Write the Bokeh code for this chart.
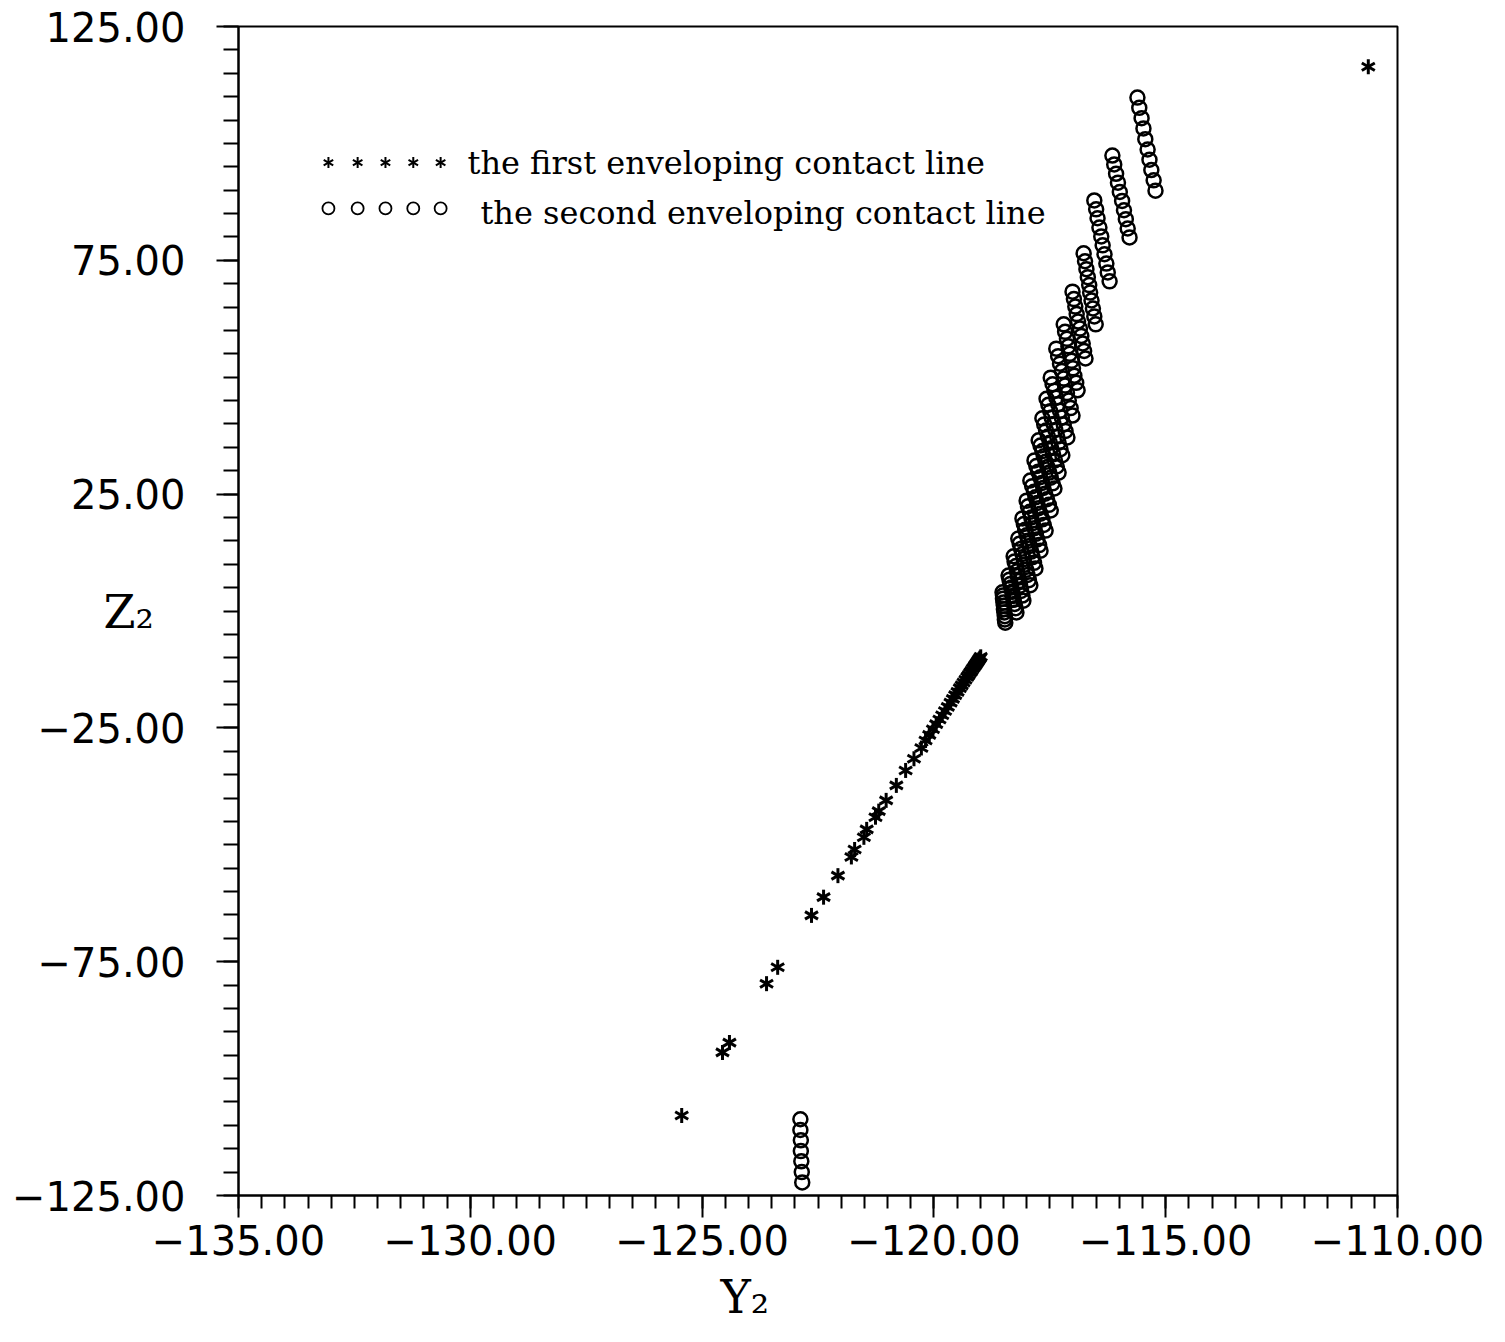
from bokeh.plotting import figure
from bokeh.models import Range1d, FixedTicker, Label, Title, ColumnDataSource
from bokeh.embed import file_html
from bokeh.resources import INLINE

# ---------------- data ----------------
x_ticks = [-135, -130, -125, -120, -115, -110]
x_tick_labels = ["\u2212135.00", "\u2212130.00", "\u2212125.00", "\u2212120.00", "\u2212115.00", "\u2212110.00"]
y_ticks = [-125, -75, -25, 25, 75, 125]
y_tick_labels = ["\u2212125.00", "\u221275.00", "\u221225.00", "25.00", "75.00", "125.00"]

# first enveloping contact line (stars)
star_y2 = [-125.44, -124.56, -124.41, -123.61, -123.37, -122.64, -122.38, -122.07,
           -121.78, -121.71, -121.51, -121.45, -121.26, -121.19, -121.03, -120.81,
           -120.61, -120.43, -120.27, -120.18,
           -120.10, -120.02, -119.95, -119.88, -119.82, -119.76, -119.70, -119.64,
           -119.59, -119.54, -119.49, -119.44, -119.40, -119.36, -119.32, -119.28,
           -119.25, -119.22, -119.19, -119.16, -119.13, -119.11, -119.09, -119.07,
           -119.05, -119.03, -119.01, -118.99,
           -110.63]
star_z2 = [-107.9, -94.4, -92.3, -79.7, -76.2, -65.1, -61.2, -56.6,
           -52.6, -51.0, -48.4, -46.7, -44.1, -42.8, -40.5, -37.3,
           -34.1, -31.6, -29.3, -27.7,
           -26.5, -25.3, -24.2, -23.2, -22.3, -21.4, -20.5, -19.6,
           -18.8, -18.0, -17.3, -16.5, -15.9, -15.3, -14.7, -14.1,
           -13.7, -13.2, -12.8, -12.3, -11.9, -11.6, -11.3, -11.0,
           -10.7, -10.4, -10.1, -9.8,
           116.4]

# second enveloping contact line (circles)
circ_y2 = [
    -122.88, -122.88, -122.87, -122.87, -122.86, -122.85, -122.84,
    -115.61, -115.57, -115.52, -115.48, -115.44, -115.39, -115.35, -115.31, -115.26, -115.22,
    -116.15, -116.11, -116.07, -116.03, -115.99, -115.94, -115.90, -115.86, -115.82, -115.78,
    -116.54, -116.50, -116.47, -116.43, -116.39, -116.36, -116.32, -116.28, -116.25, -116.21,
    -116.77, -116.74, -116.71, -116.68, -116.65, -116.63, -116.60, -116.57, -116.54, -116.51,
    -117.01, -116.98, -116.95, -116.92, -116.89, -116.85, -116.82, -116.79, -116.76, -116.73,
    -117.20, -117.17, -117.13, -117.10, -117.07, -117.03, -117.00, -116.97, -116.93, -116.90,
    -117.36, -117.32, -117.28, -117.24, -117.20, -117.17, -117.13, -117.09, -117.05, -117.01,
    -117.48, -117.44, -117.40, -117.36, -117.32, -117.28, -117.24, -117.20, -117.16, -117.12,
    -117.57, -117.53, -117.49, -117.46, -117.42, -117.38, -117.34, -117.31, -117.27, -117.23,
    -117.66, -117.62, -117.58, -117.54, -117.50, -117.47, -117.43, -117.39, -117.35, -117.31,
    -117.74, -117.70, -117.66, -117.63, -117.59, -117.55, -117.51, -117.48, -117.44, -117.40,
    -117.83, -117.79, -117.75, -117.71, -117.67, -117.64, -117.60, -117.56, -117.52, -117.48,
    -117.92, -117.88, -117.84, -117.81, -117.77, -117.74, -117.70, -117.66, -117.63, -117.59,
    -118.00, -117.97, -117.93, -117.90, -117.87, -117.83, -117.80, -117.77, -117.73, -117.70,
    -118.09, -118.06, -118.03, -118.00, -117.97, -117.93, -117.90, -117.87, -117.84, -117.81,
    -118.18, -118.15, -118.12, -118.09, -118.06, -118.04, -118.01, -117.98, -117.95, -117.92,
    -118.28, -118.26, -118.23, -118.21, -118.19, -118.16, -118.14, -118.12, -118.09, -118.07,
    -118.39, -118.37, -118.35, -118.33, -118.31, -118.30, -118.28, -118.26, -118.24, -118.22,
    -118.52, -118.51, -118.51, -118.50, -118.49, -118.49, -118.48, -118.47, -118.47, -118.46,
]
circ_z2 = [
    -108.7, -111.0, -113.2, -115.5, -117.7, -120.0, -122.2,
    109.8, 107.6, 105.4, 103.2, 100.9, 98.7, 96.5, 94.3, 92.1, 89.9,
    97.4, 95.5, 93.5, 91.6, 89.6, 87.7, 85.7, 83.8, 81.8, 79.9,
    87.8, 85.9, 84.0, 82.0, 80.1, 78.2, 76.3, 74.3, 72.4, 70.5,
    76.5, 74.8, 73.1, 71.4, 69.7, 68.1, 66.4, 64.7, 63.0, 61.3,
    68.3, 66.7, 65.1, 63.5, 61.9, 60.4, 58.8, 57.2, 55.6, 54.0,
    61.3, 59.7, 58.2, 56.6, 55.0, 53.5, 51.9, 50.3, 48.8, 47.2,
    56.1, 54.5, 52.9, 51.3, 49.7, 48.2, 46.6, 45.0, 43.4, 41.8,
    49.9, 48.5, 47.1, 45.6, 44.2, 42.8, 41.4, 39.9, 38.5, 37.1,
    45.4, 44.1, 42.7, 41.4, 40.0, 38.7, 37.3, 36.0, 34.6, 33.3,
    41.2, 39.9, 38.6, 37.3, 36.0, 34.8, 33.5, 32.2, 30.9, 29.6,
    36.5, 35.4, 34.2, 33.1, 31.9, 30.8, 29.6, 28.5, 27.3, 26.2,
    32.2, 31.0, 29.8, 28.6, 27.4, 26.3, 25.1, 23.9, 22.7, 21.5,
    27.9, 26.7, 25.5, 24.3, 23.1, 22.0, 20.8, 19.6, 18.4, 17.2,
    23.6, 22.4, 21.2, 20.0, 18.8, 17.7, 16.5, 15.3, 14.1, 12.9,
    19.8, 18.6, 17.4, 16.2, 15.0, 13.9, 12.7, 11.5, 10.3, 9.1,
    15.5, 14.4, 13.3, 12.2, 11.1, 9.9, 8.8, 7.7, 6.6, 5.5,
    11.7, 10.6, 9.6, 8.5, 7.5, 6.4, 5.4, 4.3, 3.3, 2.2,
    7.6, 6.7, 5.8, 5.0, 4.1, 3.2, 2.4, 1.5, 0.6, -0.3,
    4.0, 3.3, 2.6, 1.8, 1.1, 0.4, -0.3, -1.1, -1.8, -2.5,
]

legend_labels = ["the first enveloping contact line", "the second enveloping contact line"]
x_label = "Y\u2082"
y_label = "Z\u2082"

# ---------------- figure ----------------
p = figure(frame_width=1159, frame_height=1169,
           x_range=Range1d(-135, -110), y_range=Range1d(-125, 125),
           output_backend="svg", toolbar_location=None,
           min_border_left=238, min_border_top=26, min_border_right=100, min_border_bottom=146,
           background_fill_color="white", border_fill_color="white")
p.grid.visible = False
p.outline_line_color = "black"
p.outline_line_width = 2

p.xaxis.ticker = FixedTicker(ticks=x_ticks, minor_ticks=[-135 + 0.5 * i for i in range(51)])
p.yaxis.ticker = FixedTicker(ticks=y_ticks, minor_ticks=[-125 + 5 * i for i in range(51)])
p.xaxis.major_label_overrides = dict(zip(x_ticks, x_tick_labels))
p.yaxis.major_label_overrides = dict(zip(y_ticks, y_tick_labels))

for ax in (p.xaxis, p.yaxis):
    ax.axis_line_width = 2
    ax.axis_line_color = "black"
    ax.major_tick_line_width = 2
    ax.minor_tick_line_width = 2
    ax.major_tick_line_color = "black"
    ax.minor_tick_line_color = "black"
    ax.major_tick_in = 0
    ax.minor_tick_in = 0
    ax.major_tick_out = 22
    ax.major_label_text_font = "DejaVu Sans"
    ax.major_label_text_font_size = "40px"
    ax.major_label_text_color = "black"
p.xaxis.minor_tick_out = 13
p.yaxis.minor_tick_out = 15
p.xaxis.major_label_standoff = 7
p.yaxis.major_label_standoff = 31

# stars drawn as three crossed dashes (6-spoke asterisk)
star_src = ColumnDataSource(dict(x=star_y2, y=star_z2))
for ang in (90, 30, -30):
    p.scatter("x", "y", source=star_src, marker="dash", size=15, angle=ang, angle_units="deg",
              line_color="black", line_width=3)

circ_src = ColumnDataSource(dict(x=circ_y2, y=circ_z2))
p.scatter("x", "y", source=circ_src, marker="circle", size=14, fill_color=None,
          line_color="black", line_width=2.5)

# legend (drawn manually: five symbols + text per row)
leg_x = [-133.06, -132.43, -131.83, -131.23, -130.64]
leg_star_src = ColumnDataSource(dict(x=leg_x, y=[95.9] * 5))
for ang in (90, 30, -30):
    p.scatter("x", "y", source=leg_star_src, marker="dash", size=11, angle=ang, angle_units="deg",
              line_color="black", line_width=2)
leg_circ_src = ColumnDataSource(dict(x=leg_x, y=[86.1] * 5))
p.scatter("x", "y", source=leg_circ_src, marker="circle", size=12, fill_color=None,
          line_color="black", line_width=1.8)

p.add_layout(Label(x=-130.06, y=95.9, text=legend_labels[0], text_font="DejaVu Serif",
                   text_font_size="32px", text_baseline="middle", text_align="left", text_color="black"))
p.add_layout(Label(x=-129.78, y=85.2, text=legend_labels[1], text_font="DejaVu Serif",
                   text_font_size="32px", text_baseline="middle", text_align="left", text_color="black"))

# axis titles
p.add_layout(Title(text=x_label, align="left", offset=482, standoff=20,
                   text_font="DejaVu Serif", text_font_size="46px", text_font_style="normal",
                   text_color="black"), "below")
p.add_layout(Label(x=-137.37, y=-0.3, text=y_label, text_font="DejaVu Serif",
                   text_font_size="46px", text_baseline="middle", text_align="center",
                   text_color="black"), "right")

open("out.html", "w").write(file_html(p, INLINE))
